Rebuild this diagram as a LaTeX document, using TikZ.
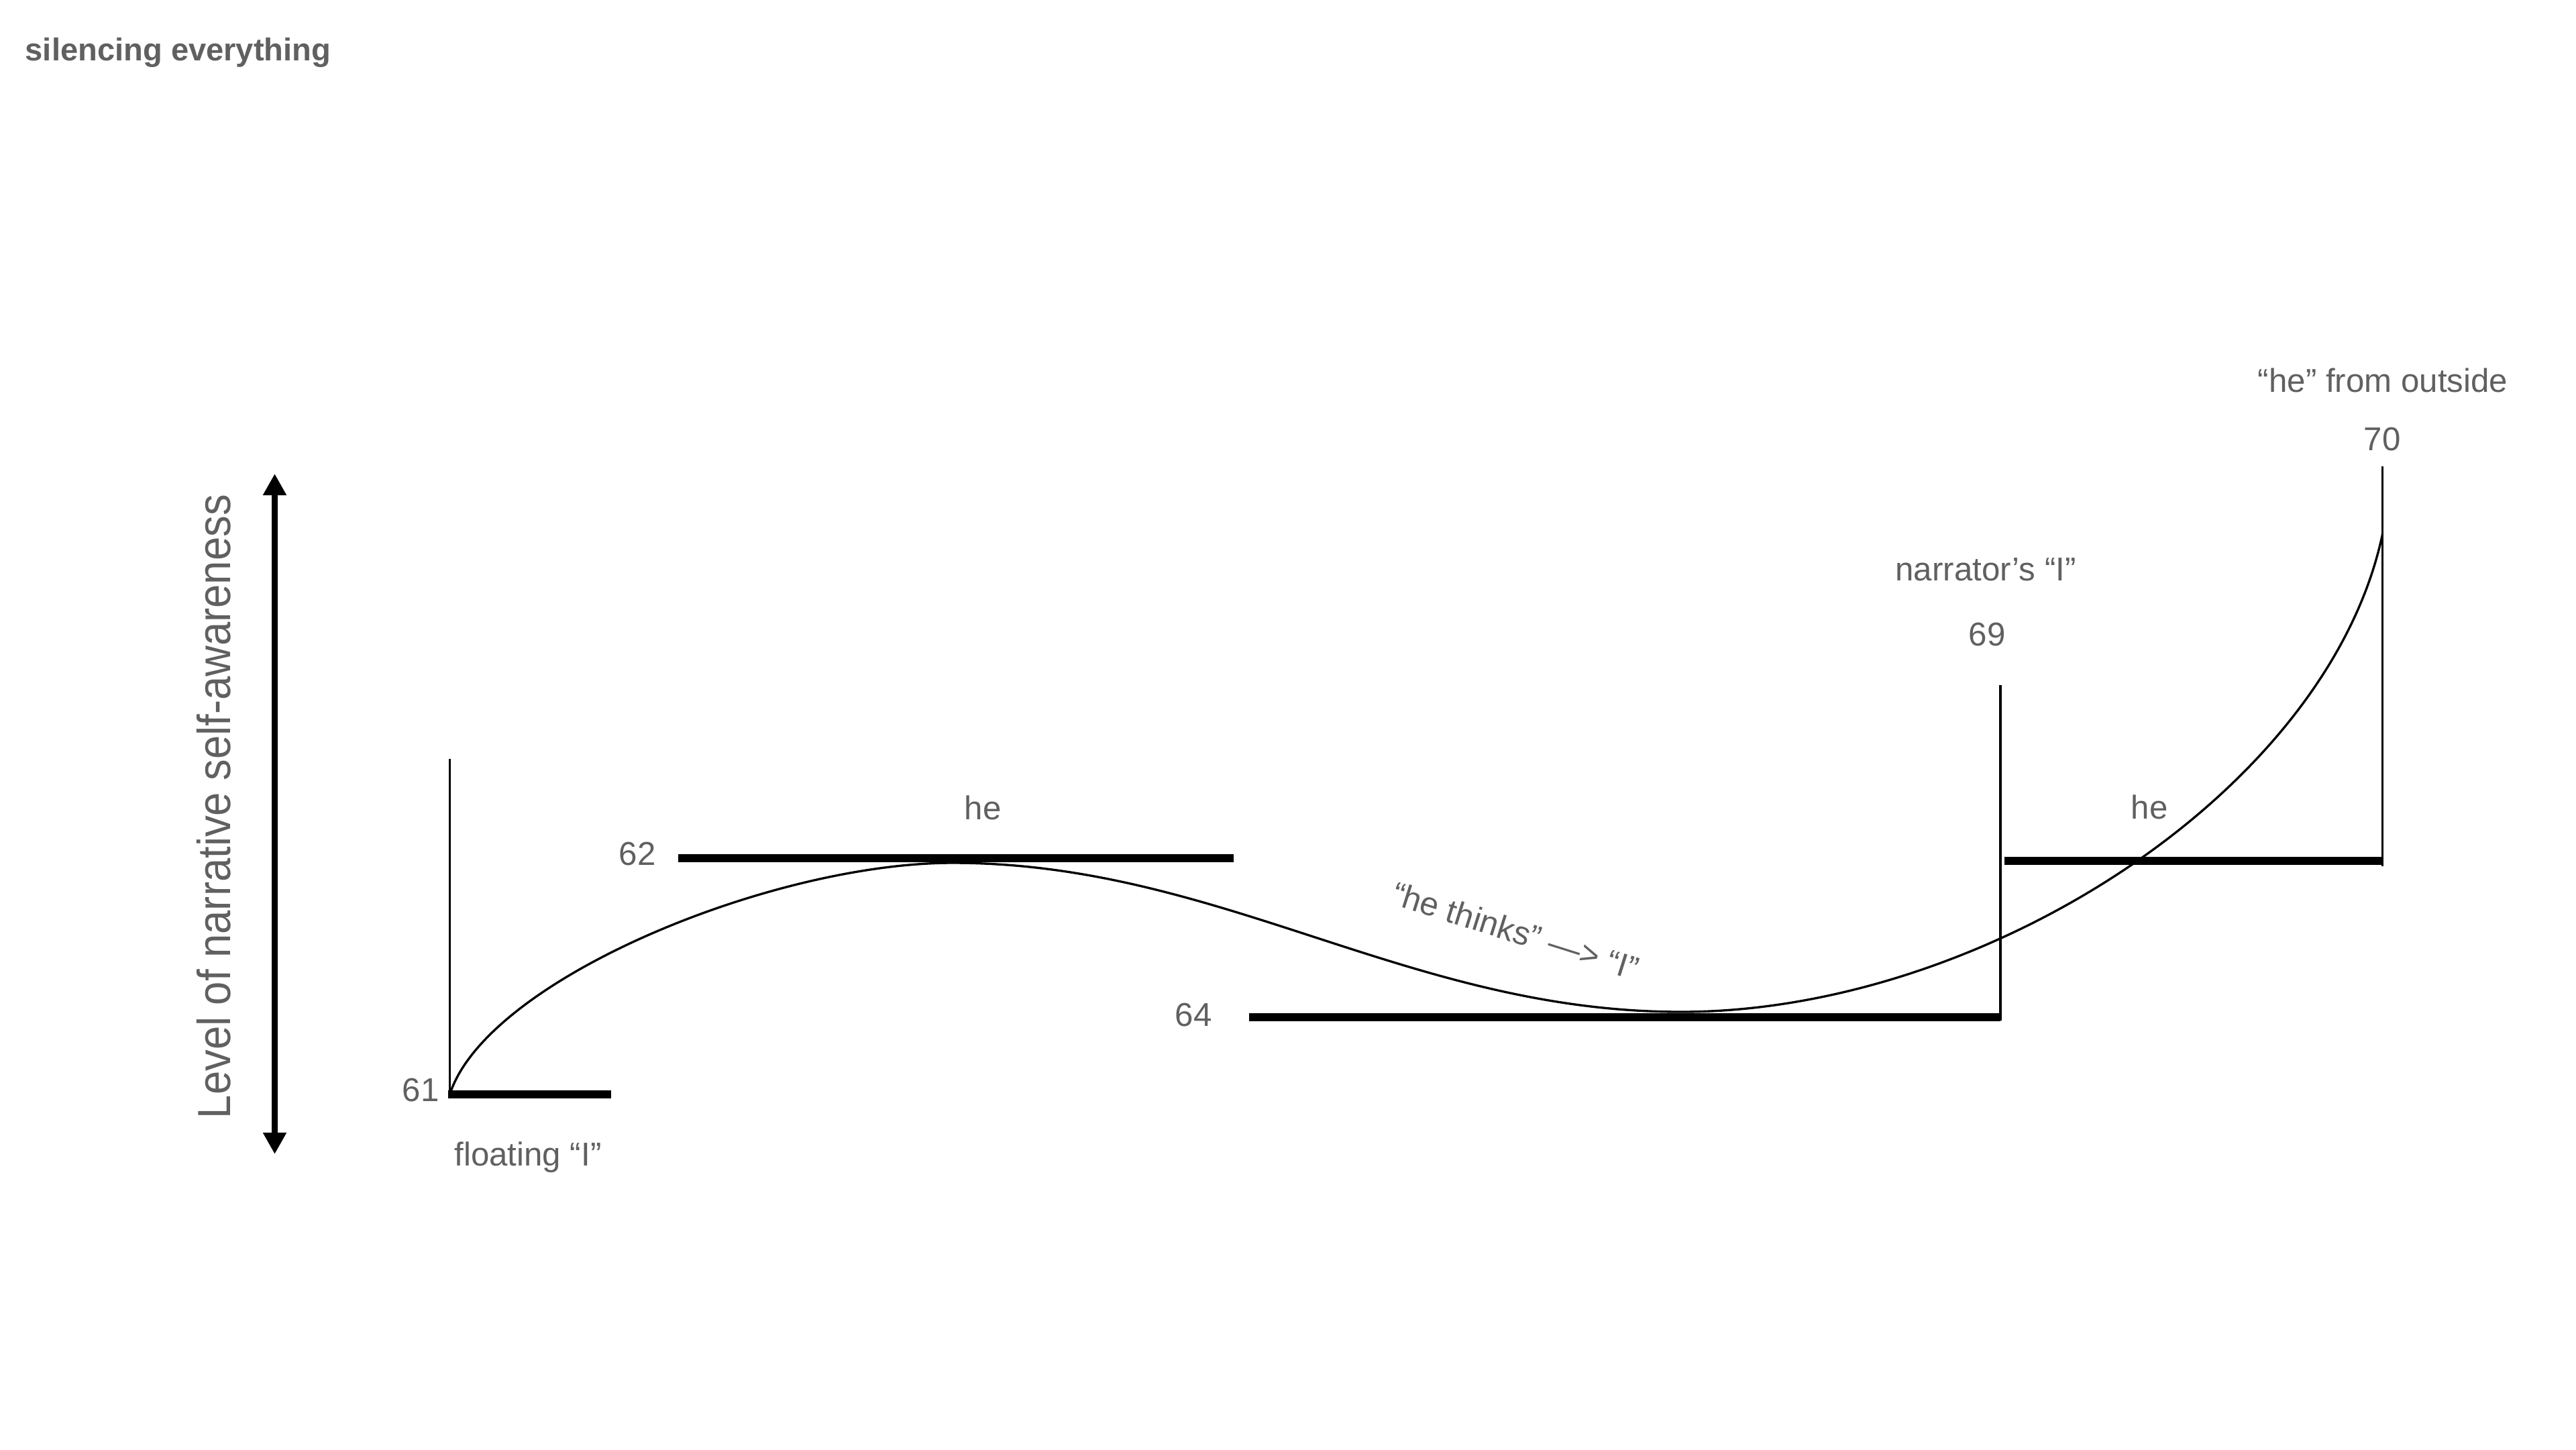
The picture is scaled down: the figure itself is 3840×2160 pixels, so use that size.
\documentclass[tikz,border=0pt]{standalone}
\usepackage{fontspec}
\setmainfont{Liberation Sans}
\usetikzlibrary{arrows.meta}
\definecolor{txtgray}{HTML}{606060}
\begin{document}
\begin{tikzpicture}[x=0.01cm,y=-0.01cm,
  lbl/.style={text=txtgray, font=\fontsize{14pt}{16pt}\selectfont, inner sep=0pt, anchor=base},
  thinline/.style={line width=1.1pt},
  bar/.style={line width=3.4pt},
  trace/.style={line width=0.95pt},
  axisarrow/.style={line width=2.3pt, {Triangle[length=9.1pt,width=9.4pt]}-{Triangle[length=9.1pt,width=9.4pt]}}]
\useasboundingbox[fill=white] (0,0) rectangle (3840,2160);

% title
\node[text=txtgray, inner sep=0pt, anchor=base west, font=\fontsize{13.4pt}{16pt}\selectfont\bfseries] (title) at (37,90) {silencing everything};

% vertical axis
\coordinate (axtop) at (409.5,706);
\coordinate (axbot) at (409.5,1720);
\draw[axisarrow] (axbot) -- (axtop);
\node[text=txtgray, inner sep=0pt, anchor=base, rotate=90] (ylab) at (343,1202)
  {\scalebox{0.915}[1]{\fontsize{19.7pt}{22pt}\selectfont Level of narrative self-awareness}};

% 61
\coordinate (v61t) at (670.5,1131);
\coordinate (v61b) at (670.5,1631);
\draw[thinline] (v61t) -- (v61b);
\coordinate (b61l) at (668,1631);
\coordinate (b61r) at (911,1631);
\draw[bar] (b61l) -- (b61r);
\node[lbl] (n61) at (627,1641) {61};
\node[lbl] (fl) at (787,1737) {floating “I”};

% 62
\coordinate (b62l) at (1011,1279);
\coordinate (b62r) at (1839,1279);
\draw[bar] (b62l) -- (b62r);
\node[lbl] (n62) at (950,1289) {62};
\node[lbl] (he1) at (1465,1221) {he};

% 64
\coordinate (b64l) at (1862,1515.5);
\coordinate (b64r) at (2982,1515.5);
\draw[bar] (b64l) -- (b64r);
\node[lbl] (n64) at (1779,1529) {64};
\node[lbl, rotate=-17.5] (thinks) at (2254,1404) {“he thinks” —> “I”};

% 69
\coordinate (v69t) at (2982,1021);
\coordinate (v69b) at (2982,1521);
\draw[thinline] (v69t) -- (v69b);
\node[lbl] (n69) at (2962,962) {69};
\node[lbl] (narr) at (2960,865) {narrator’s “I”};

% he bar 69-70
\coordinate (b69l) at (2988,1282.5);
\coordinate (b69r) at (3551.5,1282.5);
\draw[bar] (b69l) -- (b69r);
\node[lbl] (he2) at (3204,1220) {he};

% 70
\coordinate (v70t) at (3551.5,695);
\coordinate (v70b) at (3551.5,1291);
\draw[thinline] (v70t) -- (v70b);
\node[lbl] (n70) at (3551,671) {70};
\node[lbl] (outs) at (3552,584) {“he” from outside};

% trajectory curve
\coordinate (cpk) at (1420,1286);
\coordinate (cmin) at (2506,1508);
\coordinate (cend) at (3551.5,796);
\draw[trace] (v61b) .. controls (725,1460) and (1150,1286) .. (cpk)
  .. controls (1820,1286) and (2100,1508) .. (cmin)
  .. controls (2956,1508) and (3470,1180) .. (cend);
\end{tikzpicture}
\end{document}
